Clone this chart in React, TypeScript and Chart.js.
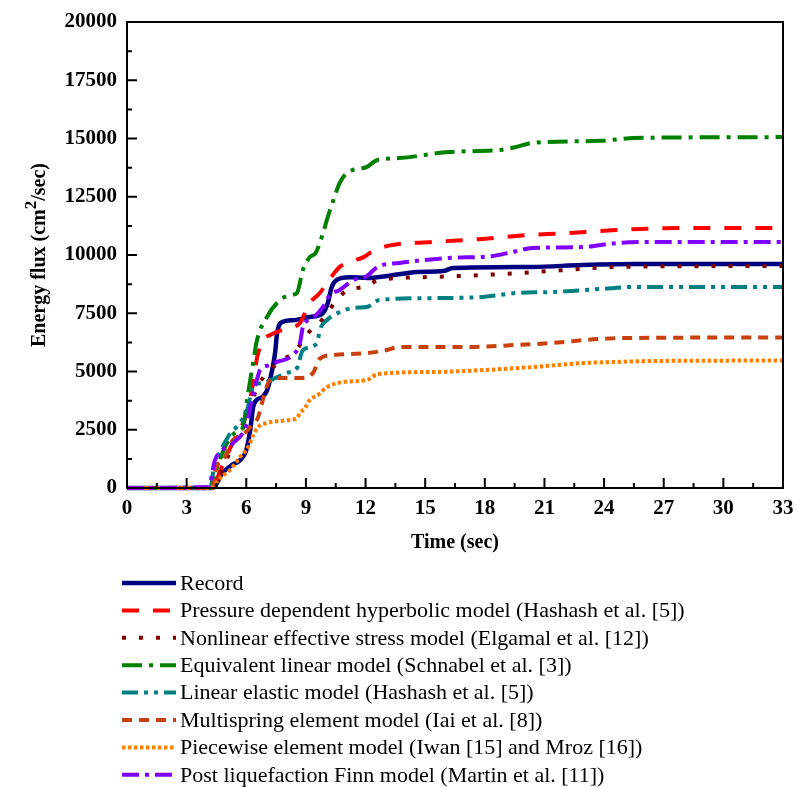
import React, { useEffect, useRef } from "react";
import { Chart, registerables } from "chart.js";

Chart.register(...registerables);

// ---- data (time in sec, energy flux in cm^2/sec) ----
const recordT = [0, 4.3, 4.8, 5.3, 5.7, 6.0, 6.2, 6.35, 6.55, 6.8, 7.05, 7.3, 7.45, 7.55, 7.8, 8.35, 9.2, 9.85, 10.1, 10.3, 10.55, 11.2, 12.1, 13.1, 14.6, 15.9, 16.4, 20.4, 22.9, 25.5, 33];
const recordE = [0, 0, 640, 1000, 1200, 1630, 2490, 3480, 3800, 3900, 4200, 5060, 5800, 6650, 7120, 7200, 7340, 7500, 7940, 8630, 8930, 9050, 9010, 9100, 9270, 9310, 9440, 9490, 9570, 9610, 9610];

const hypT = [0, 4.3, 4.7, 5.3, 5.8, 6.05, 6.3, 6.45, 6.55, 6.85, 7.2, 7.7, 8.35, 8.7, 9.2, 9.7, 10.05, 10.4, 10.7, 11.1, 11.9, 12.3, 13.1, 15.4, 17.9, 19.6, 22.1, 24.6, 28, 33];
const hypE = [0, 0, 770, 1900, 2700, 3300, 4300, 5100, 5620, 6350, 6570, 6750, 6910, 7080, 7940, 8370, 8800, 9200, 9490, 9660, 9910, 10130, 10390, 10560, 10690, 10820, 10940, 11070, 11160, 11160];

const nesT = [0, 4.3, 4.6, 5.0, 5.4, 5.8, 6.2, 6.6, 7.0, 7.5, 7.8, 8.5, 8.95, 9.36, 9.6, 10.05, 10.56, 11.1, 11.9, 12.7, 15.4, 18.8, 22.1, 24.6, 33];
const nesE = [0, 0, 400, 1200, 2000, 2500, 3500, 4400, 4900, 5300, 5490, 5900, 6480, 6870, 7000, 7500, 8070, 8500, 8630, 8930, 9060, 9180, 9360, 9490, 9530];

const eqlT = [0, 4.2, 4.5, 5.03, 5.5, 5.84, 6.04, 6.34, 6.54, 7.04, 7.7, 8.35, 8.55, 8.85, 9.2, 9.5, 9.86, 10.1, 10.4, 10.7, 11.07, 12.07, 12.6, 13.7, 16.2, 18.8, 19.6, 20.4, 23.8, 25.5, 33];
const eqlE = [0, 0, 800, 1930, 2400, 2620, 3780, 5360, 6350, 7340, 8070, 8300, 8370, 9360, 9910, 10100, 10940, 11630, 12400, 13090, 13520, 13780, 14080, 14160, 14420, 14510, 14640, 14810, 14900, 15020, 15060];

const leT = [0, 4.2, 4.33, 5.08, 5.68, 6.04, 6.34, 6.84, 8.05, 8.55, 8.85, 9.56, 9.7, 10.06, 10.7, 11.4, 12.07, 12.7, 15.4, 17.9, 19.6, 21.3, 23.8, 25.5, 33];
const leE = [0, 0, 640, 2190, 2790, 3350, 4330, 4510, 4940, 5150, 5920, 6220, 6780, 7210, 7550, 7730, 7770, 8070, 8150, 8200, 8370, 8410, 8540, 8630, 8630];

const msT = [0, 4.3, 4.5, 4.85, 5.33, 5.84, 6.3, 6.6, 6.9, 7.2, 7.7, 8.7, 9.36, 9.7, 10.4, 12.07, 13.07, 13.7, 17.1, 19.6, 21.3, 23.8, 25.5, 33];
const msE = [0, 0, 900, 1200, 2060, 2300, 2700, 3050, 4000, 4640, 4720, 4720, 4940, 5550, 5710, 5790, 5920, 6050, 6050, 6140, 6220, 6400, 6440, 6460];

const pwT = [0, 4.2, 4.68, 5.18, 5.68, 6.1, 6.35, 6.6, 7.04, 8.0, 8.55, 8.7, 8.95, 9.2, 9.6, 10.06, 10.9, 12.07, 12.6, 15.4, 17.9, 20.4, 22.9, 24.6, 26.3, 33];
const pwE = [0, 0, 430, 770, 1330, 1760, 2270, 2620, 2790, 2900, 3000, 3220, 3430, 3780, 3990, 4330, 4550, 4640, 4890, 4980, 5060, 5190, 5360, 5410, 5450, 5470];

const finnT = [0, 4.1, 4.43, 5.3, 6.0, 6.3, 6.55, 6.69, 7.2, 7.55, 8.35, 8.7, 8.85, 9.36, 9.86, 10.2, 10.7, 11.4, 12.07, 12.6, 13.7, 16.2, 18.4, 19.4, 20.4, 22.9, 24.6, 26.3, 33];
const finnE = [0, 40, 1200, 1900, 2700, 3900, 4700, 5060, 5280, 5410, 5710, 6220, 6910, 7300, 7770, 8280, 8500, 8930, 9100, 9490, 9660, 9870, 9960, 10130, 10300, 10340, 10510, 10560, 10560];

const seriesLabels = [
  "Record",
  "Pressure dependent hyperbolic model (Hashash et al. [5])",
  "Nonlinear effective stress model (Elgamal et al. [12])",
  "Equivalent linear model (Schnabel et al. [3])",
  "Linear elastic model (Hashash et al. [5])",
  "Multispring element model (Iai et al. [8])",
  "Piecewise element model (Iwan [15] and Mroz [16])",
  "Post liquefaction Finn model (Martin et al. [11])",
];
const seriesT = [recordT, hypT, nesT, eqlT, leT, msT, pwT, finnT];
const seriesE = [recordE, hypE, nesE, eqlE, leE, msE, pwE, finnE];
const seriesColors = ["#000080", "#ff0000", "#800000", "#008000", "#008080", "#c8400e", "#ff8000", "#8000ff"];
const seriesDash: number[][] = [[], [17, 14], [4, 13], [20, 7, 4, 7], [16, 6, 4, 6, 4, 6], [10, 7], [3.5, 2.5], [17, 6, 4, 6]];
const seriesWidth = [4.5, 4, 4, 4, 4, 4, 4, 4];

const xTicksMax = 33;
const xStep = 3;
const yTicksMax = 20000;
const yStep = 2500;

const SERIF = '"Liberation Serif", "Times New Roman", serif';

const decorPlugin = {
  id: "decor",
  afterDraw(chart: any) {
    const { ctx, chartArea: a, scales } = chart;
    const xs = scales.x, ys = scales.y;
    ctx.save();
    ctx.strokeStyle = "#000";
    ctx.lineWidth = 2;
    ctx.setLineDash([]);
    ctx.strokeRect(a.left, a.top, a.right - a.left, a.bottom - a.top);
    // inward ticks
    ctx.beginPath();
    for (let i = 0; i * xStep / 2 <= xTicksMax + 1e-9; i++) {
      const px = xs.getPixelForValue(i * xStep / 2);
      const len = i % 2 === 0 ? 10 : 5;
      ctx.moveTo(px, a.bottom);
      ctx.lineTo(px, a.bottom - len);
    }
    for (let i = 0; i * yStep / 2 <= yTicksMax + 1e-9; i++) {
      const py = ys.getPixelForValue(i * yStep / 2);
      const len = i % 2 === 0 ? 10 : 5;
      ctx.moveTo(a.left, py);
      ctx.lineTo(a.left + len, py);
    }
    ctx.stroke();

    // x title
    ctx.fillStyle = "#000";
    ctx.font = `bold 20px ${SERIF}`;
    ctx.textAlign = "center";
    ctx.textBaseline = "middle";
    ctx.fillText("Time (sec)", (a.left + a.right) / 2, 543);

    // y title with superscript
    ctx.save();
    ctx.translate(38, (a.top + a.bottom) / 2);
    ctx.rotate(-Math.PI / 2);
    const p1 = "Energy flux (cm", p2 = "2", p3 = "/sec)";
    ctx.font = `bold 20px ${SERIF}`;
    const w1 = ctx.measureText(p1).width, w3 = ctx.measureText(p3).width;
    ctx.font = `bold 17px ${SERIF}`;
    const w2 = ctx.measureText(p2).width;
    let sx = -(w1 + w2 + w3) / 2;
    ctx.textAlign = "left";
    ctx.textBaseline = "alphabetic";
    ctx.font = `bold 20px ${SERIF}`;
    ctx.fillText(p1, sx, 7);
    sx += w1;
    ctx.font = `bold 17px ${SERIF}`;
    ctx.fillText(p2, sx, -2);
    sx += w2;
    ctx.font = `bold 20px ${SERIF}`;
    ctx.fillText(p3, sx, 7);
    ctx.restore();

    // legend
    ctx.font = `22px ${SERIF}`;
    ctx.textAlign = "left";
    ctx.textBaseline = "middle";
    chart.data.datasets.forEach((ds: any, i: number) => {
      const y = 583 + i * 27.4;
      ctx.save();
      ctx.strokeStyle = ds.borderColor;
      ctx.lineWidth = ds.borderWidth;
      ctx.setLineDash(ds.borderDash || []);
      ctx.beginPath();
      ctx.moveTo(122, y);
      ctx.lineTo(176, y);
      ctx.stroke();
      ctx.restore();
      ctx.fillStyle = "#000";
      ctx.fillText(ds.label, 180, y + 1);
    });
    ctx.restore();
  },
};

export default function App() {
  const ref = useRef<HTMLCanvasElement | null>(null);
  useEffect(() => {
    if (!ref.current) return;
    const datasets = seriesLabels.map((label, i) => ({
      label,
      data: seriesT[i].map((t, k) => ({ x: t, y: seriesE[i][k] })),
      borderColor: seriesColors[i],
      backgroundColor: seriesColors[i],
      borderWidth: seriesWidth[i],
      borderDash: seriesDash[i],
      pointRadius: 0,
      fill: false,
      cubicInterpolationMode: "monotone" as const,
      clip: 4,
      order: seriesLabels.length - i,
    }));
    const chart = new Chart(ref.current, {
      type: "line",
      data: { datasets },
      options: {
        animation: false,
        responsive: false,
        devicePixelRatio: 1,
        layout: { padding: { top: 22, right: 14, left: 0, bottom: 0 } },
        plugins: { legend: { display: false }, tooltip: { enabled: false } },
        scales: {
          x: {
            type: "linear",
            min: 0,
            max: xTicksMax,
            ticks: { stepSize: xStep, color: "#000", font: { family: SERIF, size: 21, weight: "bold" }, padding: 8, maxRotation: 0, callback: (v: any) => String(v) },
            grid: { display: false, drawTicks: false },
            border: { display: false },
            afterFit: (s: any) => { s.height = 299; s.paddingRight = 0; s.paddingLeft = 0; },
          },
          y: {
            type: "linear",
            min: 0,
            max: yTicksMax,
            ticks: { stepSize: yStep, color: "#000", font: { family: SERIF, size: 21, weight: "bold" }, padding: 10, callback: (v: any) => String(v) },
            grid: { display: false, drawTicks: false },
            border: { display: false },
            afterFit: (s: any) => { s.width = 127; s.paddingTop = 0; s.paddingBottom = 0; },
          },
        },
      },
      plugins: [decorPlugin],
    });
    return () => chart.destroy();
  }, []);
  return (
    <div style={{ position: "absolute", left: 0, top: 0, width: 797, height: 787, background: "#fff" }}>
      <canvas ref={ref} width={797} height={787} style={{ width: 797, height: 787, display: "block" }} />
    </div>
  );
}
